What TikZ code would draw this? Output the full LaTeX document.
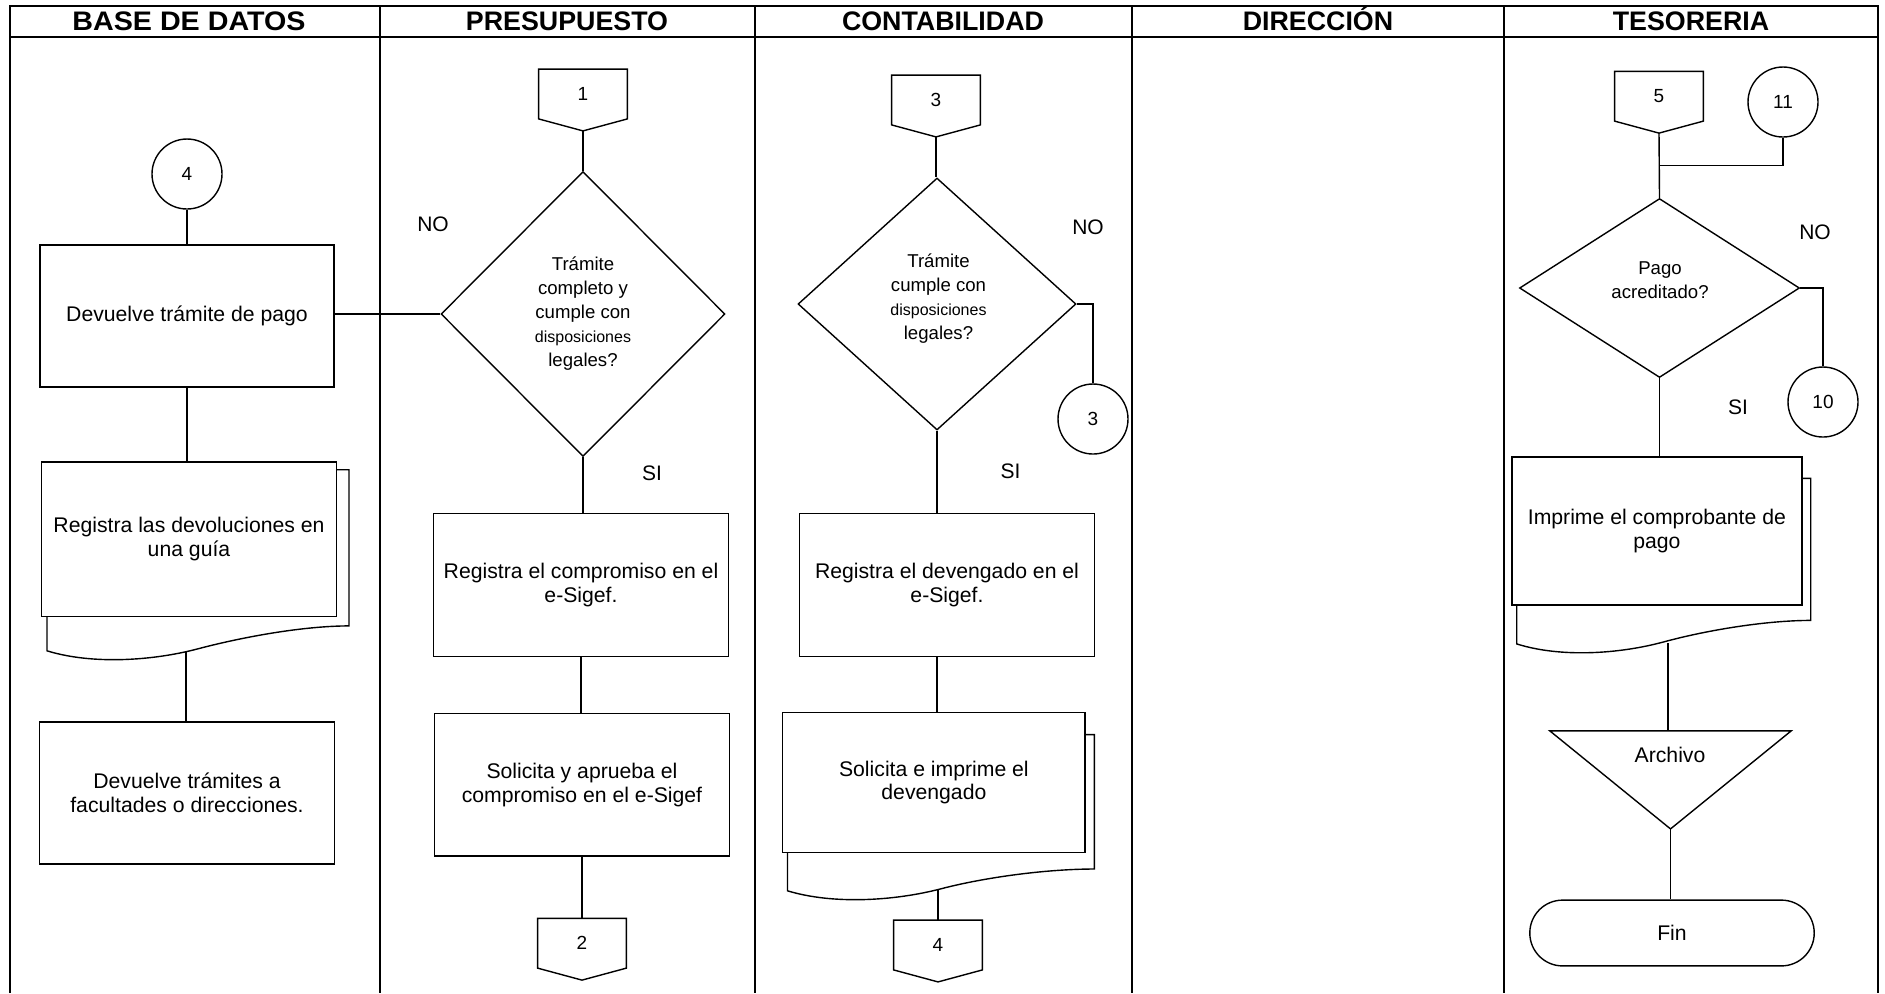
\documentclass[tikz,border=0pt]{standalone}
\usepackage{graphicx}
\usepackage{fontspec}
\setmainfont{Liberation Sans}
\usetikzlibrary{shapes.geometric,calc}

\tikzset{
  frame/.style={line width=1.1pt},
  shp/.style={line width=0.7pt},
  flow/.style={line width=0.7pt},
  txt/.style={font=\fontsize{10.6}{12}\selectfont, align=center, inner sep=0pt},
  hdr/.style={font=\bfseries\fontsize{13.4}{15}\selectfont, inner sep=0pt, anchor=base},
  procbox/.style={shp, draw, rectangle, txt},
  docfront/.style={shp, draw, rectangle, fill=white, txt},
  decision/.style={shp, draw, diamond, inner sep=0pt},
  dectext/.style={font=\fontsize{9.3}{12}\selectfont, align=center, inner sep=0pt},
  onpage/.style={shp, draw, circle, minimum size=35pt, inner sep=0pt, font=\fontsize{9.5}{11}\selectfont},
  offpg/.style={minimum width=44pt, minimum height=24.5pt, inner sep=0pt, font=\fontsize{9.5}{11}\selectfont},
  answer/.style={font=\fontsize{10.5}{12}\selectfont, inner sep=0pt},
}

% off-page connector: a box with a pointed bottom; its tip is named <name>-tip
\newcommand\offpage[3]{%
  \node[offpg] (#1) at (#2) {#3};
  \draw[shp] (#1.north west) -- (#1.north east) -- (#1.south east)
    -- ([yshift=-6pt]#1.south) coordinate (#1-tip) -- (#1.south west) -- cycle;}

\begin{document}
\begin{tikzpicture}[x=0.5pt,y=-0.5pt]
\useasboundingbox (0,0) rectangle (1885,993);
\fill[white] (0,0) rectangle (1885,993);

% ---------- swimlane frame ----------
\draw[frame] (10,993) -- (10,6) -- (1878,6) -- (1878,993);
\draw[frame] (10,37) -- (1878,37);
\foreach \x in {380,755,1132,1504} \draw[frame] (\x,6) -- (\x,993);

\node[hdr] (hBD)  at (189,30.5)  {\scalebox{1.07}[1]{BASE DE DATOS}};
\node[hdr] (hPR)  at (567,30.5)  {PRESUPUESTO};
\node[hdr] (hCO)  at (943,30.5)  {CONTABILIDAD};
\node[hdr] (hDI)  at (1318,30.5) {DIRECCIÓN};
\node[hdr] (hTE)  at (1691,30.5) {TESORERIA};

% ---------- BASE DE DATOS ----------
\node[onpage] (c4) at (187,174) {4};
\node[procbox, minimum width=147pt, minimum height=71pt] (b1) at (187,316) {Devuelve trámite de pago};
\draw[shp] (47,616.2) -- (47,650.8) .. controls (92.3,664.8) and (152.7,660.8) .. (198,648.8)
  .. controls (243.3,636.8) and (303.7,625.9) .. (349,625.9) -- (349,469.7) -- (336.4,469.7);
\node[docfront, minimum width=147.35pt, minimum height=77.05pt] (doc1) at (189,539.2) {Registra las devoluciones en\\una guía};
\coordinate (w1) at (186,652);
\node[procbox, minimum width=147.4pt, minimum height=71pt] (b2) at (187,792.8) {Devuelve trámites a\\facultades o direcciones.};

% ---------- PRESUPUESTO ----------
\offpage{off1}{583,94}{1}
\node[decision, minimum width=142pt, minimum height=142.5pt] (d1) at (583,314) {};
\node[dectext] (t1) at (583,313.5) {Trámite\\completo y\\cumple con\\{\fontsize{8}{12}\selectfont disposiciones}\\legales?};
\node[procbox, minimum width=147.5pt, minimum height=71.65pt] (b3) at (581,585) {Registra el compromiso en el\\e-Sigef.};
\node[procbox, minimum width=147.7pt, minimum height=71.3pt] (b4) at (582,784.5) {Solicita y aprueba el\\compromiso en el e-Sigef};
\offpage{off2}{582,943.2}{2}
\node[answer] (no1) at (433,224) {NO};
\node[answer] (si1) at (652,473) {SI};

% ---------- CONTABILIDAD ----------
\offpage{off3}{936,100}{3}
\node[decision, minimum width=139pt, minimum height=126pt] (d2) at (937,304) {};
\node[dectext] (t2) at (938.5,298.5) {Trámite\\cumple con\\{\fontsize{8}{12}\selectfont disposiciones}\\legales?};
\node[onpage] (c3) at (1093,419) {3};
\node[procbox, minimum width=147.4pt, minimum height=71.5pt] (b5) at (947,585) {Registra el devengado en el\\e-Sigef.};
\draw[shp] (787.5,852.4) -- (787.5,890.8) .. controls (833.5,904.8) and (894.9,900.8) .. (940.9,888.8)
  .. controls (986.9,876.8) and (1048.3,869) .. (1094.3,869) -- (1094.3,734.6) -- (1085,734.6);
\node[docfront, minimum width=151.2pt, minimum height=69.95pt] (doc2) at (933.9,782.5) {Solicita e imprime el\\devengado};
\coordinate (w2) at (938,889);
\offpage{off4}{938,945}{4}
\node[answer] (no2) at (1088,227) {NO};
\node[answer] (si2) at (1010.5,471) {SI};

% ---------- TESORERIA ----------
\offpage{off5}{1659,96.2}{5}
\node[onpage] (c11) at (1783,102) {11};
\node[decision, minimum width=140pt, minimum height=89.5pt] (d3) at (1659.5,288) {};
\node[dectext] (t3) at (1660,280.5) {Pago\\acreditado?};
\node[onpage] (c10) at (1823,402) {10};
\draw[shp] (1516.7,604.8) -- (1516.7,643.9) .. controls (1560.8,657.9) and (1619.6,653.9) .. (1663.7,641.9)
  .. controls (1707.8,629.9) and (1766.6,620.4) .. (1810.7,620.4) -- (1810.7,478.4) -- (1801.7,478.4);
\node[docfront, minimum width=144.9pt, minimum height=73.95pt] (doc3) at (1656.9,530.85) {Imprime el comprobante de\\pago};
\coordinate (w3) at (1668,643);
\node[minimum width=120.35pt, minimum height=48.65pt, inner sep=0pt] (arch) at (1670.5,779.85) {};
\draw[shp] (arch.north west) -- (arch.north east) -- (arch.south) -- cycle;
\node[txt] (tarch) at (1670,755.4) {Archivo};
\node[shp, draw, rectangle, rounded corners=16.4pt, minimum width=142.2pt, minimum height=32.9pt, txt] (fin) at (1672,933) {Fin};
\node[answer] (no3) at (1815,232) {NO};
\node[answer] (si3) at (1738,407) {SI};

% ---------- connectors ----------
\draw[flow] (c4) -- (b1);
\draw[flow] (b1.south) -- (b1.south |- doc1.north);
\draw[flow] (w1) -- (w1 |- b2.north);
\draw[flow] (d1.west) -- (d1.west -| b1.east);

\draw[flow] (off1-tip) -- (off1-tip |- d1.north);
\draw[flow] (d1.south) -- (d1.south |- b3.north);
\draw[flow] (b3.south) -- (b3.south |- b4.north);
\draw[flow] (b4.south) -- (b4.south |- off2.north);

\draw[flow] (off3-tip) -- (off3-tip |- d2.north);
\draw[flow] (d2.east) -| (c3.north);
\draw[flow] (d2.south) -- (d2.south |- b5.north);
\draw[flow] (d2.south |- b5.south) -- (d2.south |- doc2.north);
\draw[flow] (w2) -- (w2 |- off4.north);

\coordinate (j5) at ($(off5-tip)!0.5!(d3.north)$);
\draw[flow] (off5-tip) -- (d3.north);
\draw[flow] (c11.south) |- (j5);
\draw[flow] (d3.east) -| (c10.north);
\draw[flow] (d3.south) -- (d3.south |- doc3.north);
\draw[flow] (w3) -- (w3 |- arch.north);
\draw[flow] (arch.south) -- (arch.south |- fin.north);
\end{tikzpicture}
\end{document}
